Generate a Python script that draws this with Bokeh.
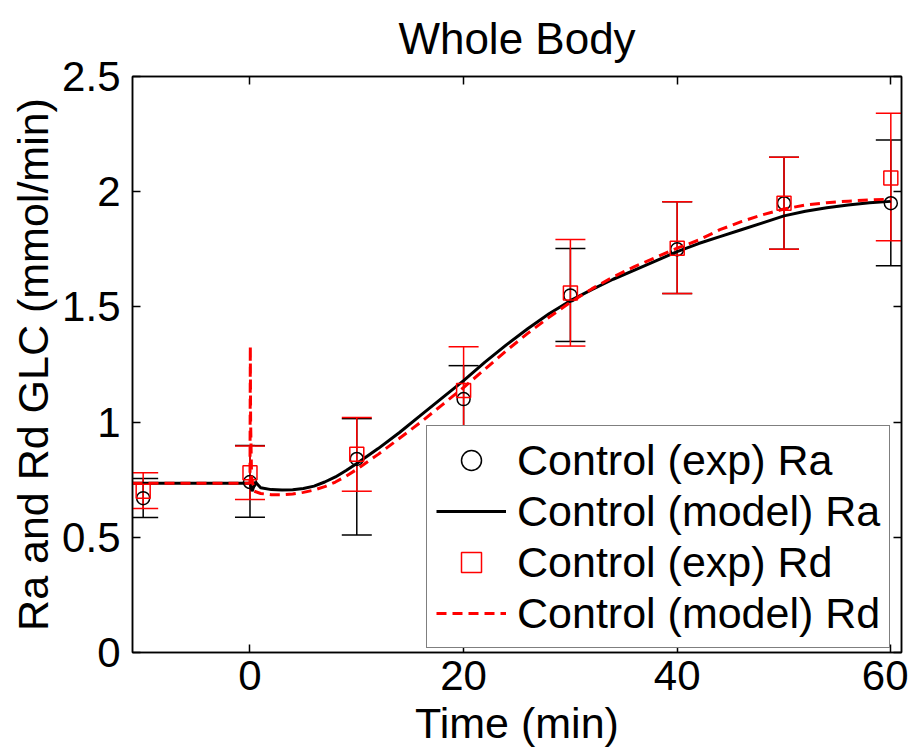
from bokeh.plotting import figure
from bokeh.models import (LinearAxis, FixedTicker, NumeralTickFormatter, Whisker, TeeHead,
                          ColumnDataSource, Legend, LegendItem, Range1d)
from bokeh.embed import file_html
from bokeh.resources import INLINE

# ---- data ----
t_exp = [-10, 0, 10, 20, 30, 40, 50, 60]
ra_exp = [0.67, 0.74, 0.84, 1.10, 1.55, 1.75, 1.95, 1.95]
ra_lower = [0.586, 0.587, 0.51, 0.955, 1.35, 1.558, 1.75, 1.679]
ra_upper = [0.755, 0.898, 1.015, 1.245, 1.754, 1.956, 2.149, 2.224]
rd_exp = [0.70, 0.78, 0.86, 1.137, 1.56, 1.755, 1.95, 2.06]
rd_lower = [0.625, 0.664, 0.70, 0.947, 1.33, 1.558, 1.75, 1.787]
rd_upper = [0.78, 0.896, 1.02, 1.327, 1.792, 1.956, 2.149, 2.34]

t_ra = [-11, 0, 0.2, 0.5, 1, 2, 3, 4, 5, 6, 7, 8, 9, 10, 12, 14, 16, 18, 20, 22, 24, 26,
        28, 30, 32, 34, 36, 38, 40, 42, 44, 46, 48, 50, 52, 54, 56, 58, 60]
ra_model = [0.735, 0.735, 0.70, 0.74, 0.715, 0.707, 0.705, 0.706, 0.712, 0.722, 0.740,
            0.762, 0.79, 0.82, 0.885, 0.955, 1.03, 1.105, 1.18, 1.26, 1.335, 1.405, 1.47,
            1.527, 1.575, 1.62, 1.66, 1.70, 1.74, 1.775, 1.805, 1.835, 1.865, 1.895, 1.915,
            1.93, 1.942, 1.952, 1.958]

t_rd = [-11, 0, 0.03, 0.06, 0.15, 0.4, 1, 2, 3, 4, 5, 6, 7, 8, 9, 10, 12, 14, 16, 18, 20,
        22, 24, 26, 28, 30, 32, 34, 36, 38, 40, 42, 44, 46, 48, 50, 52, 54, 56, 58, 60]
rd_model = [0.735, 0.735, 1.33, 1.0, 0.76, 0.70, 0.69, 0.685, 0.685, 0.688, 0.695, 0.705,
            0.72, 0.74, 0.765, 0.795, 0.86, 0.93, 1.0, 1.075, 1.15, 1.23, 1.31, 1.385,
            1.455, 1.52, 1.578, 1.63, 1.675, 1.715, 1.755, 1.79, 1.835, 1.87, 1.90, 1.925,
            1.942, 1.952, 1.959, 1.964, 1.968]

x_ticks = [0, 20, 40, 60]
y_ticks = [0, 0.5, 1, 1.5, 2, 2.5]
title_text = "Whole Body"

FONT = "Liberation Sans"
TICK_FS = "42px"
LAB_FS = "43px"
FW, FH = 769, 576

src_ra = ColumnDataSource(dict(t=t_exp, y=ra_exp, lo=ra_lower, hi=ra_upper))
src_rd = ColumnDataSource(dict(t=t_exp, y=rd_exp, lo=rd_lower, hi=rd_upper))

p = figure(frame_width=FW, frame_height=FH, x_range=Range1d(-11, 61), y_range=Range1d(0, 2.5),
           output_backend="svg", toolbar_location=None, title=title_text,
           min_border_left=132, min_border_right=7, min_border_top=76, min_border_bottom=80)
p.title.text_font = FONT
p.title.text_font_size = "44px"
p.title.text_font_style = "normal"
p.title.text_color = "black"
p.title.align = "center"
p.title.vertical_align = "top"
p.title.standoff = 24

p.xgrid.visible = False
p.ygrid.visible = False
p.outline_line_color = "black"
p.outline_line_width = 1.5

for ax in (p.xaxis[0], p.yaxis[0]):
    ax.major_tick_in = 8
    ax.major_tick_out = 0
    ax.minor_tick_line_color = None
    ax.axis_line_color = "black"
    ax.axis_line_width = 1.5
    ax.major_tick_line_color = "black"
    ax.major_tick_line_width = 1.5
    ax.major_label_text_font = FONT
    ax.major_label_text_font_size = TICK_FS
    ax.major_label_text_color = "black"
    ax.axis_label_text_font = FONT
    ax.axis_label_text_font_size = LAB_FS
    ax.axis_label_text_font_style = "normal"
    ax.axis_label_text_color = "black"

p.xaxis[0].ticker = FixedTicker(ticks=x_ticks)
p.yaxis[0].ticker = FixedTicker(ticks=y_ticks)
p.yaxis[0].formatter = NumeralTickFormatter(format="0.[0]")
p.xaxis[0].axis_label = "Time (min)"
p.yaxis[0].axis_label = "Ra and Rd GLC (mmol/min)"
p.xaxis[0].major_label_standoff = 8
p.yaxis[0].major_label_standoff = 12
p.xaxis[0].axis_label_standoff = 6
p.yaxis[0].axis_label_standoff = 2

# tick-only axes on the top and right edges (box look)
for loc, tk in (("above", x_ticks), ("right", y_ticks)):
    ax = LinearAxis(ticker=FixedTicker(ticks=tk), major_tick_in=8, major_tick_out=0,
                    minor_tick_line_color=None, major_label_text_font_size="1px",
                    major_label_text_color=None, major_label_standoff=0,
                    axis_line_color="black", axis_line_width=1.5,
                    major_tick_line_width=1.5)
    p.add_layout(ax, loc)

# Ra experimental
wr = Whisker(source=src_ra, base="t", lower="lo", upper="hi", dimension="height",
             line_color="black", line_width=1.5,
             upper_head=TeeHead(size=30, line_color="black", line_width=1.5),
             lower_head=TeeHead(size=30, line_color="black", line_width=1.5))
p.add_layout(wr)
r_ra_exp = p.scatter("t", "y", source=src_ra, marker="circle", size=13,
                     fill_color=None, line_color="black", line_width=1.5)
r_ra_mod = p.line(t_ra, ra_model, line_color="black", line_width=3)

# Rd experimental
wd = Whisker(source=src_rd, base="t", lower="lo", upper="hi", dimension="height",
             line_color="red", line_width=1.5,
             upper_head=TeeHead(size=30, line_color="red", line_width=1.5),
             lower_head=TeeHead(size=30, line_color="red", line_width=1.5))
p.add_layout(wd)
r_rd_exp = p.scatter("t", "y", source=src_rd, marker="square", size=14,
                     fill_color=None, line_color="red", line_width=1.5)
r_rd_mod = p.line(t_rd, rd_model, line_color="red", line_width=3, line_dash="10 6")

legend = Legend(items=[
    LegendItem(label="Control (exp) Ra", renderers=[r_ra_exp]),
    LegendItem(label="Control (model) Ra", renderers=[r_ra_mod]),
    LegendItem(label="Control (exp) Rd", renderers=[r_rd_exp]),
    LegendItem(label="Control (model) Rd", renderers=[r_rd_mod]),
], location=(294, 4))
legend.label_text_font = FONT
legend.label_text_font_size = LAB_FS
legend.label_text_color = "black"
legend.glyph_width = 70
legend.glyph_height = 50
legend.label_height = 50
legend.label_standoff = 11
legend.spacing = 1
legend.padding = 9
legend.margin = 0
legend.border_line_color = "black"
legend.border_line_width = 1.5
legend.background_fill_alpha = 1.0
p.add_layout(legend, "center")

open("out.html", "w").write(file_html(p, INLINE))
